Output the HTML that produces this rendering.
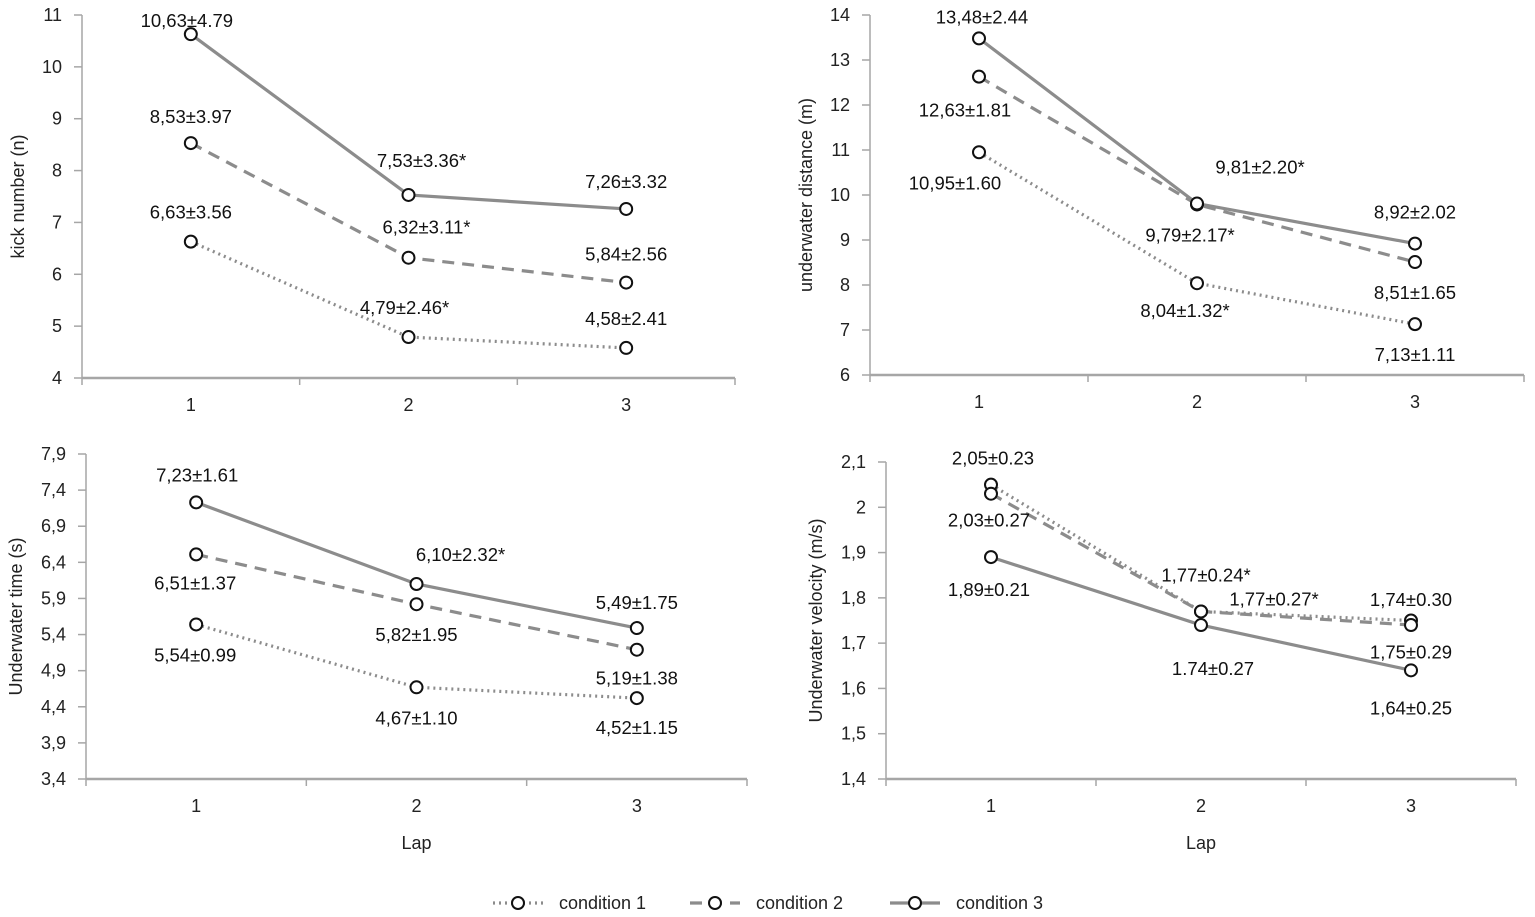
<!DOCTYPE html>
<html><head><meta charset="utf-8">
<style>
html,body{margin:0;padding:0;background:#fff;}
svg{display:block;font-family:"Liberation Sans",sans-serif;}
</style></head>
<body>
<svg id="chart" width="1535" height="917" viewBox="0 0 1535 917" xmlns="http://www.w3.org/2000/svg"></svg>
<script>
// ---- data ----
const laps = ["1","2","3"];
const kickC1 = [6.63, 4.79, 4.58];
const kickC2 = [8.53, 6.32, 5.84];
const kickC3 = [10.63, 7.53, 7.26];
const kickLabels1 = ["6,63±3.56","4,79±2.46*","4,58±2.41"];
const kickLabels2 = ["8,53±3.97","6,32±3.11*","5,84±2.56"];
const kickLabels3 = ["10,63±4.79","7,53±3.36*","7,26±3.32"];
const kickTicks = ["4","5","6","7","8","9","10","11"];

const distC1 = [10.95, 8.04, 7.13];
const distC2 = [12.63, 9.79, 8.51];
const distC3 = [13.48, 9.81, 8.92];
const distLabels1 = ["10,95±1.60","8,04±1.32*","7,13±1.11"];
const distLabels2 = ["12,63±1.81","9,79±2.17*","8,51±1.65"];
const distLabels3 = ["13,48±2.44","9,81±2.20*","8,92±2.02"];
const distTicks = ["6","7","8","9","10","11","12","13","14"];

const timeC1 = [5.54, 4.67, 4.52];
const timeC2 = [6.51, 5.82, 5.19];
const timeC3 = [7.23, 6.10, 5.49];
const timeLabels1 = ["5,54±0.99","4,67±1.10","4,52±1.15"];
const timeLabels2 = ["6,51±1.37","5,82±1.95","5,19±1.38"];
const timeLabels3 = ["7,23±1.61","6,10±2.32*","5,49±1.75"];
const timeTicks = ["3,4","3,9","4,4","4,9","5,4","5,9","6,4","6,9","7,4","7,9"];

const velC1 = [2.05, 1.77, 1.75];
const velC2 = [2.03, 1.77, 1.74];
const velC3 = [1.89, 1.74, 1.64];
const velLabels1 = ["2,05±0.23","1,77±0.24*","1,75±0.29"];
const velLabels2 = ["2,03±0.27","1,77±0.27*","1,74±0.30"];
const velLabels3 = ["1,89±0.21","1.74±0.27","1,64±0.25"];
const velTicks = ["1,4","1,5","1,6","1,7","1,8","1,9","2","2,1"];

const NS = "http://www.w3.org/2000/svg";
const svg = document.getElementById("chart");
function mk(tag, attrs, parent){
  const e = document.createElementNS(NS, tag);
  for (const k in attrs) e.setAttribute(k, attrs[k]);
  (parent||svg).appendChild(e);
  return e;
}
const AX = "#a6a6a6", LN = "#8c8c8c";
const dashes = ["2,4", "12,8", ""];
const FS = 18, VFS = 18.5;

function panel(cfg){
  const g = mk("g", {});
  
  
  const yMin = cfg.yMin, yMax = cfg.yMax;
  const ys = v => cfg.bottom - (v - yMin) / (yMax - yMin) * (cfg.bottom - cfg.top);
  const band = (cfg.right - cfg.left) / laps.length;
  const xs = i => cfg.left + band * (i + 0.5);
  const ya = mk("line", {x1:cfg.left, y1:cfg.top, x2:cfg.left, y2:cfg.bottom, stroke:AX, "stroke-width":1.5}, g);
  
  
  cfg.ticks.forEach((t) => {
    const v = parseFloat(t.replace(",", "."));
    const y = ys(v);
    mk("line", {x1:cfg.left-8, y1:y, x2:cfg.left, y2:y, stroke:AX, "stroke-width":1.5}, g);
    const tx = mk("text", {x:cfg.left-20, y:y+6, "text-anchor":"end", "font-size":FS, fill:"#222"}, g);
    tx.textContent = t;
    
    
  });
  const xa = mk("line", {x1:cfg.left, y1:cfg.bottom, x2:cfg.right, y2:cfg.bottom, stroke:AX, "stroke-width":2.5}, g);
  
  
  for (let i = 0; i <= laps.length; i++) {
    const x = cfg.left + band * i;
    mk("line", {x1:x, y1:cfg.bottom, x2:x, y2:cfg.bottom+7, stroke:AX, "stroke-width":1.5}, g);
  }
  laps.forEach((l, i) => {
    const tx = mk("text", {x:xs(i), y:cfg.bottom+33, "text-anchor":"middle", "font-size":FS, fill:"#222"}, g);
    tx.textContent = l;
    
    
  });
  const yt = mk("text", {transform:`translate(${cfg.ytX},${(cfg.top+cfg.bottom)/2}) rotate(-90)`, "text-anchor":"middle", "font-size":FS, fill:"#222"}, g);
  yt.textContent = cfg.yTitle;
  
  
  if (cfg.xTitle) {
    const xt = mk("text", {x:(cfg.left+cfg.right)/2, y:cfg.bottom+70, "text-anchor":"middle", "font-size":FS, fill:"#222"}, g);
    xt.textContent = cfg.xTitle;
    
    
  }
  cfg.series.forEach((s, si) => {
    const pts = s.map((v, i) => xs(i) + "," + ys(v)).join(" ");
    const pl = mk("polyline", {points:pts, fill:"none", stroke:LN, "stroke-width":3.2, "stroke-dasharray":dashes[si]}, g);
    
    
  });
  cfg.series.forEach((s, si) => {
    s.forEach((v, i) => {
      const c = mk("circle", {cx:xs(i), cy:ys(v), r:6, fill:"#fff", stroke:"#111", "stroke-width":2}, g);
      
      
      const off = cfg.offsets[si][i];
      const tx = mk("text", {x:xs(i)+off[0], y:ys(v)+off[1]+6, "text-anchor":"middle", "font-size":VFS, fill:"#111"}, g);
      tx.textContent = cfg.labels[si][i];
      
      
    });
  });
}

panel({name:"kick-number-chart", left:82, right:735, top:15, bottom:378, yMin:4, yMax:11, ticks:kickTicks, ytX:24,
  yTitle:"kick number (n)", series:[kickC1,kickC2,kickC3],
  labels:[kickLabels1,kickLabels2,kickLabels3],
  offsets:[[[0,-29],[-4,-29],[0,-29]],[[0,-26],[18,-30],[0,-28]],[[-4,-13],[13,-34],[0,-27]]]});

panel({name:"underwater-distance-chart", left:870, right:1524, top:15, bottom:375, yMin:6, yMax:14, ticks:distTicks, ytX:812,
  yTitle:"underwater distance (m)", series:[distC1,distC2,distC3],
  labels:[distLabels1,distLabels2,distLabels3],
  offsets:[[[-24,31],[-12,28],[0,31]],[[-14,34],[-7,31],[0,31]],[[3,-21],[63,-36],[0,-31]]]});

panel({name:"underwater-time-chart", left:86, right:747, top:454, bottom:779, yMin:3.4, yMax:7.9, ticks:timeTicks, ytX:22,
  yTitle:"Underwater time (s)", xTitle:"Lap", series:[timeC1,timeC2,timeC3],
  labels:[timeLabels1,timeLabels2,timeLabels3],
  offsets:[[[-1,31],[0,31],[0,30]],[[-1,29],[0,31],[0,29]],[[1,-27],[44,-29],[0,-25]]]});

panel({name:"underwater-velocity-chart", left:886, right:1516, top:462, bottom:779, yMin:1.4, yMax:2.1, ticks:velTicks, ytX:822,
  yTitle:"Underwater velocity (m/s)", xTitle:"Lap", series:[velC1,velC2,velC3],
  labels:[velLabels1,velLabels2,velLabels3],
  offsets:[[[2,-26],[5,-36],[0,32]],[[-2,27],[73,-12],[0,-25]],[[-2,33],[12,44],[0,38]]]});

const lg = mk("g", {});


const legendX = [493, 690, 890];
["condition 1","condition 2","condition 3"].forEach((n, i) => {
  const x = legendX[i];
  mk("line", {x1:x, y1:903, x2:x+50, y2:903, stroke:LN, "stroke-width":3.2, "stroke-dasharray":dashes[i]}, lg);
  mk("circle", {cx:x+25, cy:903, r:6, fill:"#fff", stroke:"#111", "stroke-width":2}, lg);
  const t = mk("text", {x:x+66, y:909, "font-size":FS, fill:"#222"}, lg);
  t.textContent = n;
  
  
});
</script>
</body></html>
